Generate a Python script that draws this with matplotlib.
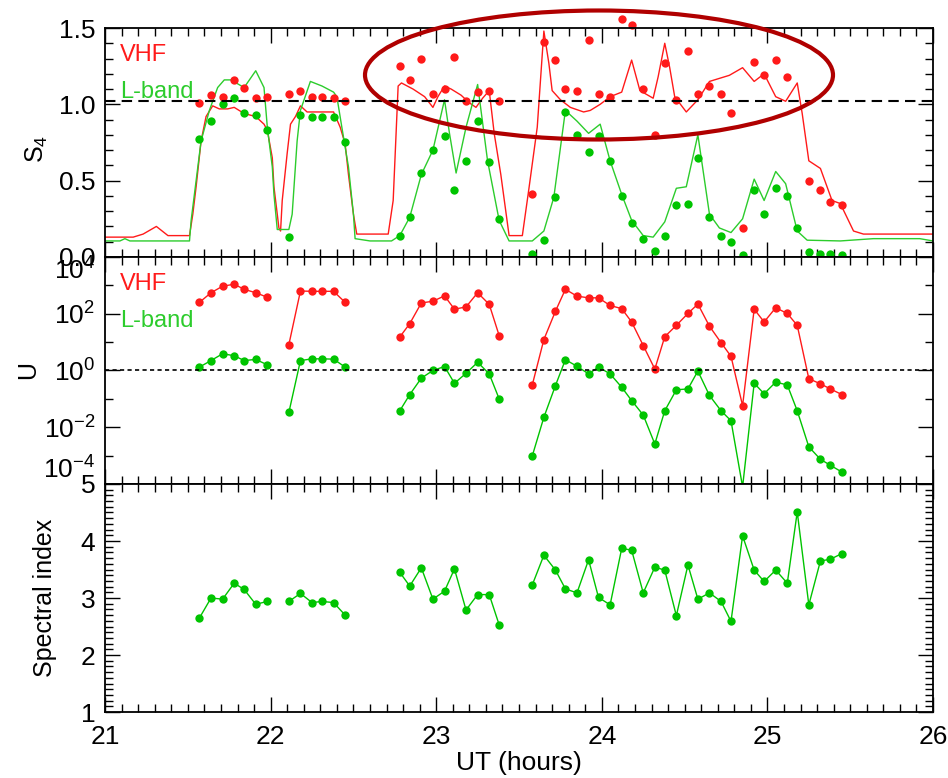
import numpy as np
import matplotlib
matplotlib.use("Agg")
import matplotlib.pyplot as plt
from matplotlib.patches import Ellipse
from matplotlib.ticker import (MultipleLocator, FixedLocator, FormatStrFormatter,
                               LogFormatterMathtext, NullFormatter)

plt.rcParams['font.family'] = ['Liberation Sans', 'DejaVu Sans']
plt.rcParams['mathtext.default'] = 'regular'

nan = np.nan

# observation times (UT hours), nan separates the data gaps
ut = [21.57, 21.64, 21.71, 21.78, 21.84, 21.91, 21.98, nan,
      22.11, 22.18, 22.25, 22.31, 22.38, 22.45, nan,
      22.78, 22.84, 22.91, 22.98, 23.05, 23.11, 23.18, 23.25, 23.32, 23.38, nan,
      23.58, 23.65, 23.72, 23.78, 23.85, 23.92, 23.98, 24.05, 24.12, 24.18,
      24.25, 24.32, 24.38, 24.45, 24.52, 24.58, 24.65, 24.72, 24.78, 24.85,
      24.92, 24.98, 25.05, 25.12, 25.18, 25.25, 25.32, 25.38, 25.45]

# S4 points
s4_vhf = [1.01, 1.06, 1.05, 1.16, 1.11, 1.04, 1.05, nan,
          1.07, 1.09, 1.05, 1.05, 1.04, 1.02, nan,
          1.25, 1.16, 1.30, 1.07, 1.10, 1.31, 1.02, 1.08, 1.09, 1.02, nan,
          0.41, 1.41, 1.29, 1.10, 1.09, 1.42, 1.07, 1.05, 1.56, 1.52,
          1.10, 0.80, 1.27, 1.03, 1.35, 1.07, 1.12, 1.07, 0.94, 0.19,
          1.28, 1.19, 1.29, 1.18, nan, 0.50, 0.44, 0.36, 0.34]
s4_lband = [0.77, 0.89, 1.00, 1.04, 0.94, 0.93, 0.83, nan,
            0.13, 0.93, 0.92, 0.92, 0.92, 0.75, nan,
            0.14, 0.26, 0.55, 0.70, 0.79, 0.44, 0.63, 0.89, 0.62, 0.25, nan,
            0.02, 0.11, 0.39, 0.95, 0.80, 0.69, 0.79, 0.63, 0.40, 0.22,
            0.12, 0.04, 0.14, 0.34, 0.35, 0.65, 0.26, 0.14, 0.10, 0.01,
            0.44, 0.28, 0.45, 0.40, 0.19, 0.03, 0.02, 0.02, 0.01]

# log10 of U
logu_vhf = [2.40, 2.74, 2.97, 3.04, 2.86, 2.74, 2.58, nan,
            0.91, 2.80, 2.79, 2.79, 2.79, 2.40, nan,
            1.18, 1.65, 2.38, 2.44, 2.63, 2.16, 2.24, 2.74, 2.33, 1.23, nan,
            -0.51, 1.09, 2.09, 2.86, 2.62, 2.56, 2.56, 2.29, 2.18, 1.71,
            0.88, 0.05, 1.19, 1.59, 2.01, 2.34, 1.56, 0.98, 0.50, -1.24,
            2.16, 1.71, 2.21, 2.01, 1.59, -0.29, -0.47, -0.65, -0.85]
logu_lband = [0.12, 0.35, 0.59, 0.52, 0.35, 0.39, 0.20, nan,
              -1.48, 0.35, 0.41, 0.41, 0.40, 0.12, nan,
              -1.42, -0.85, -0.27, 0.00, 0.14, -0.45, -0.10, 0.29, -0.12, -1.00, nan,
              -3.01, -1.65, -0.53, 0.38, 0.15, -0.12, 0.12, -0.12, -0.59, -1.06,
              -1.57, -2.59, -1.42, -0.68, -0.65, -0.02, -0.88, -1.42, -1.77, -4.10,
              -0.45, -0.82, -0.41, -0.51, -1.42, -2.69, -3.13, -3.34, -3.58]

spec_index = [2.65, 3.00, 2.98, 3.26, 3.15, 2.89, 2.94, nan,
              2.94, 3.08, 2.92, 2.94, 2.92, 2.70, nan,
              3.45, 3.21, 3.53, 2.98, 3.12, 3.51, 2.79, 3.06, 3.06, 2.53, nan,
              3.23, 3.75, 3.49, 3.16, 3.09, 3.67, 3.01, 2.88, 3.87, 3.84,
              3.09, 3.54, 3.49, 2.69, 3.58, 2.98, 3.09, 2.94, 2.59, 4.09,
              3.49, 3.29, 3.49, 3.26, 4.51, 2.88, 3.65, 3.68, 3.78]

# S4 curves
ut_line_vhf = [21.00, 21.17, 21.23, 21.31, 21.38, 21.51, 21.53, 21.55, 21.58, 21.61,
               21.65, 21.69, 21.74, 21.78, 21.84, 21.91, 21.96, 21.98, 22.01, 22.02,
               22.05, 22.06, 22.07, 22.10, 22.12, 22.15, 22.18, 22.22, 22.25, 22.38,
               22.42, 22.45, 22.47, 22.50, 22.52, 22.66, 22.71, 22.74, 22.77, 22.79,
               22.86, 22.93, 22.98, 23.01, 23.05, 23.09, 23.15, 23.20, 23.24, 23.28,
               23.32, 23.35, 23.39, 23.44, 23.52, 23.56, 23.61, 23.65, 23.68, 23.70,
               23.75, 23.81, 23.89, 23.93, 23.99, 24.05, 24.12, 24.18, 24.23, 24.31,
               24.34, 24.38, 24.41, 24.44, 24.51, 24.58, 24.65, 24.71, 24.77, 24.85,
               24.92, 24.98, 25.05, 25.11, 25.18, 25.21, 25.25, 25.32, 25.39, 25.44,
               25.52, 25.58, 26.00]
s4_line_vhf = [0.13, 0.13, 0.15, 0.20, 0.14, 0.14, 0.28, 0.46, 0.76, 0.92,
               0.99, 0.97, 0.97, 0.98, 0.94, 0.92, 0.87, 0.83, 0.65, 0.46,
               0.19, 0.17, 0.37, 0.68, 0.87, 0.92, 0.99, 0.95, 0.95, 0.95,
               0.85, 0.74, 0.54, 0.28, 0.15, 0.15, 0.15, 0.37, 1.12, 1.14,
               1.10, 1.05, 0.98, 1.05, 1.12, 1.10, 1.06, 1.01, 0.98, 1.04,
               1.09, 0.81, 0.54, 0.14, 0.14, 0.45, 0.85, 1.48, 1.27, 1.09,
               1.03, 0.98, 0.95, 0.96, 1.00, 1.05, 1.08, 1.29, 1.09, 1.04,
               1.18, 1.40, 1.24, 1.05, 0.95, 1.03, 1.15, 1.17, 1.19, 1.24,
               1.15, 1.20, 1.05, 1.02, 1.14, 0.94, 0.63, 0.58, 0.37, 0.35,
               0.17, 0.15, 0.15]
ut_line_lband = [21.00, 21.09, 21.12, 21.15, 21.51, 21.52, 21.55, 21.58, 21.63, 21.68,
                 21.72, 21.76, 21.84, 21.91, 21.96, 21.98, 22.01, 22.02, 22.04, 22.11,
                 22.13, 22.16, 22.18, 22.24, 22.31, 22.38, 22.40, 22.43, 22.47, 22.50,
                 22.51, 22.60, 22.73, 22.78, 22.84, 22.91, 22.98, 23.05, 23.08, 23.12,
                 23.18, 23.25, 23.31, 23.38, 23.44, 23.58, 23.65, 23.71, 23.78, 23.85,
                 23.92, 23.99, 24.05, 24.12, 24.18, 24.25, 24.31, 24.38, 24.45, 24.51,
                 24.58, 24.65, 24.71, 24.78, 24.85, 24.92, 24.98, 25.05, 25.11, 25.18,
                 25.24, 25.44, 25.64, 25.92, 26.00]
s4_line_lband = [0.105, 0.105, 0.12, 0.105, 0.105, 0.24, 0.50, 0.76, 0.96, 1.11,
                 1.16, 1.16, 1.11, 1.22, 1.11, 0.85, 0.59, 0.41, 0.18, 0.18,
                 0.28, 0.76, 0.96, 1.15, 1.12, 1.08, 1.05, 0.85, 0.59, 0.28,
                 0.12, 0.105, 0.105, 0.14, 0.26, 0.54, 0.70, 1.03, 0.81, 0.55,
                 0.85, 1.13, 0.63, 0.24, 0.105, 0.105, 0.17, 0.39, 0.96, 0.89,
                 0.81, 0.87, 0.63, 0.41, 0.24, 0.14, 0.13, 0.23, 0.45, 0.46,
                 0.80, 0.28, 0.19, 0.16, 0.25, 0.51, 0.37, 0.56, 0.48, 0.17,
                 0.11, 0.105, 0.12, 0.12, 0.105]

red = '#ff1a1a'
green = '#00c400'
green_line = '#2ccc2c'

fig = plt.figure(figsize=(9.48, 7.78), dpi=100)
left, width = 0.1108, 0.8734
ax1 = fig.add_axes([left, 0.6697, width, 0.2943])
ax2 = fig.add_axes([left, 0.3779, width, 0.2918])
ax3 = fig.add_axes([left, 0.0848, width, 0.2931])

ut_a = np.array(ut)
ms = 6

# S4 panel
ax1.plot(ut_line_vhf, s4_line_vhf, color=red, lw=1.0)
ax1.plot(ut_line_lband, s4_line_lband, color=green_line, lw=1.0)
ax1.plot(ut_a, s4_vhf, 'o', color=red, ms=ms, mec='none', clip_on=False)
ax1.plot(ut_a, s4_lband, 'o', color=green, ms=ms, mec='none', clip_on=False)
ax1.axhline(1.02, color='black', lw=1.5, ls=(0, (5, 3)))
ax1.set_ylim(0, 1.5)
ax1.yaxis.set_major_locator(MultipleLocator(0.5))
ax1.yaxis.set_minor_locator(MultipleLocator(0.1))
ax1.yaxis.set_major_formatter(FormatStrFormatter('%.1f'))
ax1.set_ylabel('S$_4$', fontsize=18)
ax1.yaxis.set_label_coords(-0.066, 0.47)

# U panel
ax2.plot(ut_a, 10 ** np.array(logu_vhf), '-o', color=red, lw=1.0, ms=ms, mec='none')
ax2.plot(ut_a, 10 ** np.array(logu_lband), '-o', color=green, lw=1.0, ms=ms, mec='none',
         clip_on=False)
ax2.axhline(1.0, color='black', lw=1.2, ls=(0, (2.5, 2)))
ax2.set_yscale('log')
ax2.set_ylim(1e-4, 1e4)
ax2.yaxis.set_major_locator(FixedLocator([1e-4, 1e-2, 1e0, 1e2, 1e4]))
ax2.yaxis.set_minor_locator(FixedLocator([1e-3, 1e-1, 1e1, 1e3]))
ax2.yaxis.set_major_formatter(LogFormatterMathtext())
ax2.yaxis.set_minor_formatter(NullFormatter())
ax2.set_ylabel('U', fontsize=18)
ax2.yaxis.set_label_coords(-0.078, 0.5)

# spectral index panel
ax3.plot(ut_a, spec_index, '-o', color=green, lw=1.0, ms=ms, mec='none')
ax3.set_ylim(1, 5)
ax3.yaxis.set_major_locator(MultipleLocator(1))
ax3.yaxis.set_minor_locator(MultipleLocator(0.1))
ax3.yaxis.set_major_formatter(FormatStrFormatter('%d'))
ax3.set_ylabel('Spectral index', fontsize=18)
ax3.yaxis.set_label_coords(-0.058, 0.5)
ax3.set_xlabel('UT (hours)', fontsize=19, labelpad=2)

for ax in (ax1, ax2, ax3):
    ax.set_xlim(21, 26)
    ax.xaxis.set_major_locator(MultipleLocator(1))
    ax.xaxis.set_minor_locator(MultipleLocator(0.1))
    ax.tick_params(which='both', direction='in', top=True, right=True, width=1.0)
    ax.tick_params(which='major', length=11, labelsize=19, pad=7)
    ax.tick_params(which='minor', length=5.5)
    for s in ax.spines.values():
        s.set_linewidth(1.3)
for ax in (ax1, ax2):
    ax.tick_params(labelbottom=False)
ax3.tick_params(axis='x', pad=9)

for ax in (ax1, ax2):
    ax.text(0.018, 0.88, 'VHF', color=red, fontsize=17, transform=ax.transAxes, va='center')
    ax.text(0.018, 0.72, 'L-band', color=green_line, fontsize=17, transform=ax.transAxes,
            va='center')

ell = Ellipse((599 / 948, 1 - 75 / 778), 468 / 948, 129 / 778, transform=fig.transFigure,
              fill=False, edgecolor='#b00000', lw=3.0)
fig.add_artist(ell)

# end labels of each panel sit inside the panel, as in the original
fig.canvas.draw()
for ax in (ax1, ax2, ax3):
    ticks = ax.yaxis.get_major_ticks()
    ticks[0].label1.set_va('bottom')
    ticks[-1].label1.set_va('top')

fig.savefig('out.png', dpi=100)
